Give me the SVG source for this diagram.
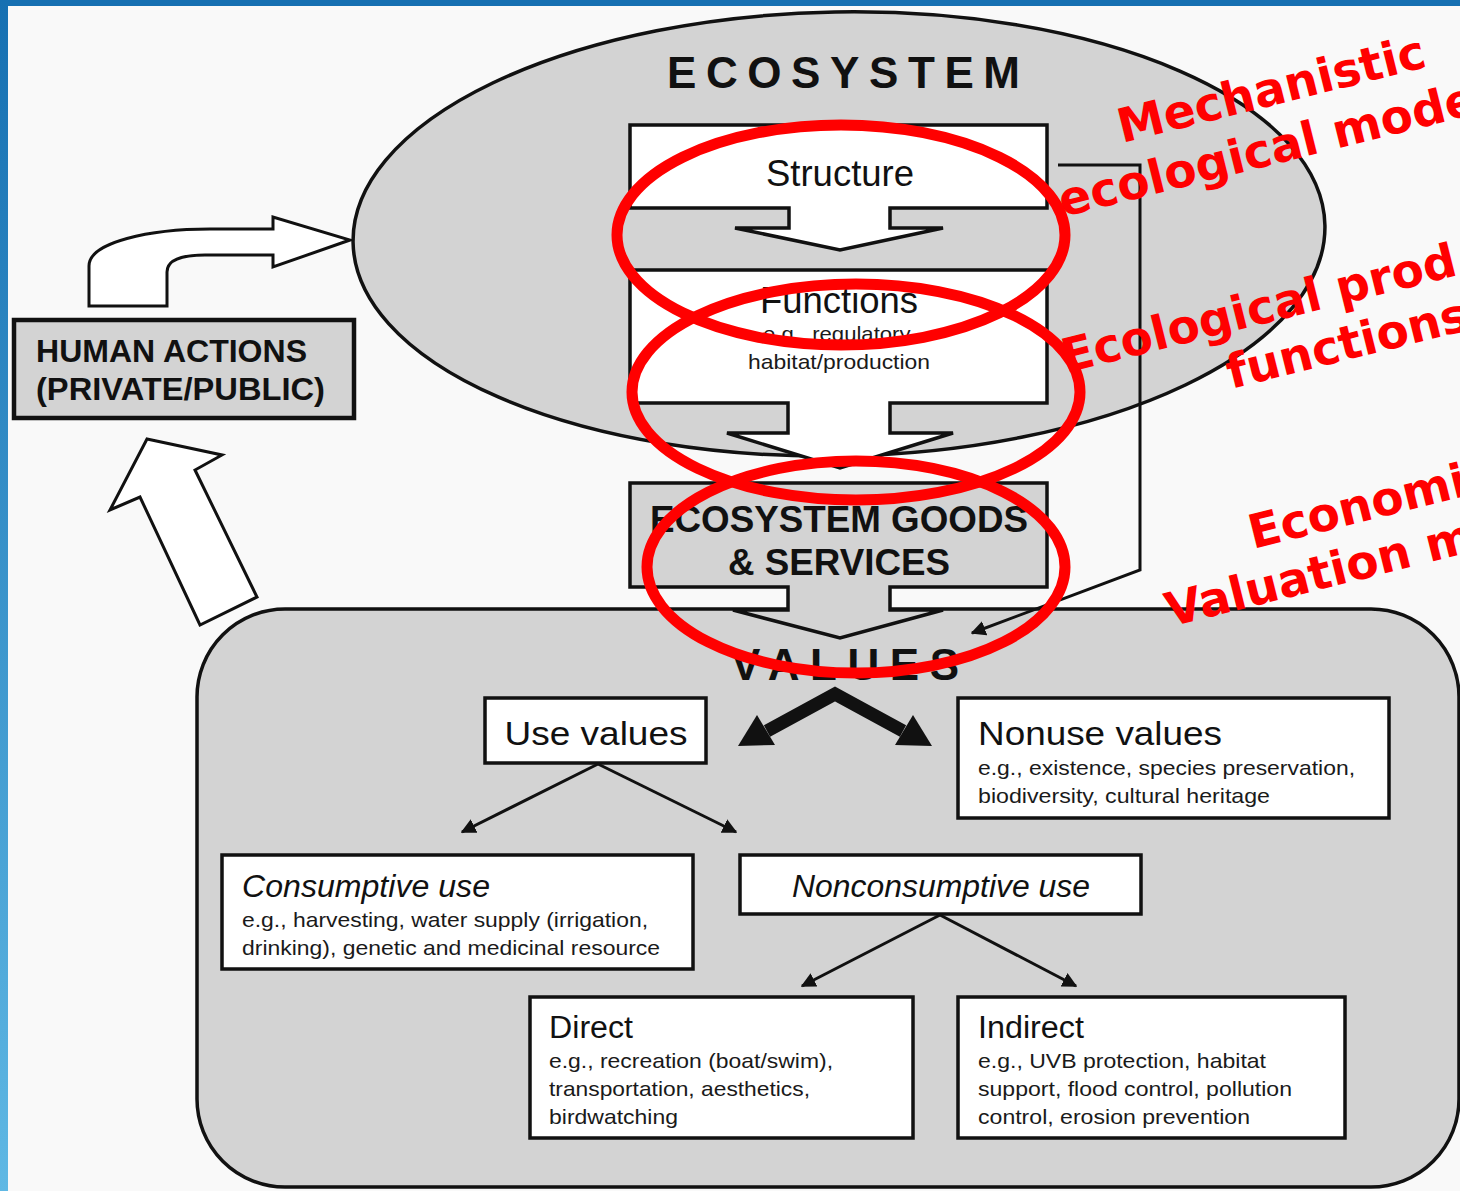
<svg xmlns="http://www.w3.org/2000/svg" width="1460" height="1191" viewBox="0 0 1460 1191">
  <defs>
    <linearGradient id="sideBar" x1="0" y1="0" x2="0" y2="1">
      <stop offset="0" stop-color="#1670b2"/>
      <stop offset="1" stop-color="#5fb8e4"/>
    </linearGradient>
    <marker id="tip" viewBox="0 0 10 10" refX="9" refY="5" markerWidth="5" markerHeight="5" orient="auto" markerUnits="strokeWidth">
      <path d="M0,0 L10,5 L0,10 Z" fill="#111"/>
    </marker>
    <style>
      .box { stroke: #111; stroke-width: 3.5; }
      .white { fill: #ffffff; }
      .grey { fill: #d3d3d3; }
      .line { fill: none; stroke: #111; stroke-width: 3; }
      .hollow { fill: #ffffff; stroke: #111; stroke-width: 3; stroke-linejoin: miter; }
      .sans { font-family: "Liberation Sans", Arial, sans-serif; fill: #111; }
      .bold { font-weight: bold; }
      .ital { font-style: italic; }
      .small { font-size: 21px; fill: #1a1a1a; }
      .mid { font-size: 31px; }
      .big { font-size: 34px; }
      .ring { fill: none; stroke: #ff0000; stroke-width: 11; }
      .note { font-family: "DejaVu Sans", Verdana, sans-serif; font-weight: bold; font-size: 47px; fill: #ff0000; }
    </style>
  </defs>

  <!-- page -->
  <rect x="0" y="0" width="1460" height="1191" fill="#f9f9f9"/>
  <rect x="0" y="0" width="1460" height="6" fill="#1670b2"/>
  <rect x="0" y="0" width="8" height="1191" fill="url(#sideBar)"/>

  <!-- ecosystem ellipse -->
  <g id="ecosystem">
    <ellipse cx="839" cy="234" rx="486" ry="222" transform="rotate(-1 839 234)" class="grey" stroke="#111" stroke-width="3.5"/>
    <text x="667" y="88" class="sans bold" font-size="44" textLength="353" lengthAdjust="spacing">ECOSYSTEM</text>
  </g>

  <!-- values panel -->
  <g id="values">
    <rect x="197" y="609" width="1262" height="578" rx="88" ry="88" class="grey box"/>
    <text x="731" y="680" class="sans bold" font-size="44" textLength="228" lengthAdjust="spacing">VALUES</text>
  </g>

  <!-- structure box with its down arrow -->
  <g id="structure">
    <path d="M630,125 H1047 V208 H890 V228 H943 L840,250 L735,228 H789 V208 H630 Z" class="white box"/>
    <text x="840" y="186" text-anchor="middle" class="sans" font-size="36" textLength="148" lengthAdjust="spacingAndGlyphs">Structure</text>
  </g>

  <!-- functions box with its down arrow -->
  <g id="functions">
    <path d="M630,270 H1047 V403 H890 V433 H953 L840,468 L727,433 H788 V403 H630 Z" class="white box"/>
    <text x="839" y="313" text-anchor="middle" class="sans" font-size="36" textLength="158" lengthAdjust="spacingAndGlyphs">Functions</text>
    <text x="839" y="341" text-anchor="middle" class="sans small" textLength="152" lengthAdjust="spacingAndGlyphs">e.g., regulatory,</text>
    <text x="839" y="369" text-anchor="middle" class="sans small" textLength="182" lengthAdjust="spacingAndGlyphs">habitat/production</text>
  </g>

  <!-- goods and services box with its down arrow -->
  <g id="goods">
    <path d="M630,483 H1047 V587 H890 V610 H943 L840,638 L733,610 H788 V587 H630 Z" class="grey box"/>
    <text x="839" y="532" text-anchor="middle" class="sans bold" font-size="37" textLength="378" lengthAdjust="spacingAndGlyphs">ECOSYSTEM GOODS</text>
    <text x="839" y="575" text-anchor="middle" class="sans bold" font-size="37" textLength="222" lengthAdjust="spacingAndGlyphs">&amp; SERVICES</text>
  </g>

  <!-- human actions -->
  <g id="human-actions">
    <rect x="14" y="320" width="340" height="98" class="grey" stroke="#111" stroke-width="4.5"/>
    <text x="36" y="362" class="sans bold" font-size="31" textLength="271" lengthAdjust="spacingAndGlyphs">HUMAN ACTIONS</text>
    <text x="36" y="400" class="sans bold" font-size="31" textLength="289" lengthAdjust="spacingAndGlyphs">(PRIVATE/PUBLIC)</text>
  </g>

  <g id="use-values">
    <rect x="485" y="698" width="221" height="65" class="white box"/>
    <text x="596" y="745" text-anchor="middle" class="sans big" textLength="183" lengthAdjust="spacingAndGlyphs">Use values</text>
  </g>

  <g id="nonuse-values">
    <rect x="958" y="698" width="431" height="120" class="white box"/>
    <text x="978" y="745" class="sans big" textLength="244" lengthAdjust="spacingAndGlyphs">Nonuse values</text>
    <text x="978" y="775" class="sans small" textLength="377" lengthAdjust="spacingAndGlyphs">e.g., existence, species preservation,</text>
    <text x="978" y="803" class="sans small" textLength="292" lengthAdjust="spacingAndGlyphs">biodiversity, cultural heritage</text>
  </g>

  <g id="consumptive-use">
    <rect x="222" y="855" width="471" height="114" class="white box"/>
    <text x="242" y="897" class="sans ital mid" textLength="248" lengthAdjust="spacingAndGlyphs">Consumptive use</text>
    <text x="242" y="927" class="sans small" textLength="406" lengthAdjust="spacingAndGlyphs">e.g., harvesting, water supply (irrigation,</text>
    <text x="242" y="955" class="sans small" textLength="418" lengthAdjust="spacingAndGlyphs">drinking), genetic and medicinal resource</text>
  </g>

  <g id="nonconsumptive-use">
    <rect x="740" y="855" width="401" height="59" class="white box"/>
    <text x="941" y="897" text-anchor="middle" class="sans ital mid" textLength="298" lengthAdjust="spacingAndGlyphs">Nonconsumptive use</text>
  </g>

  <g id="direct">
    <rect x="530" y="997" width="383" height="141" class="white box"/>
    <text x="549" y="1038" class="sans mid" textLength="84" lengthAdjust="spacingAndGlyphs">Direct</text>
    <text x="549" y="1068" class="sans small" textLength="284" lengthAdjust="spacingAndGlyphs">e.g., recreation (boat/swim),</text>
    <text x="549" y="1096" class="sans small" textLength="261" lengthAdjust="spacingAndGlyphs">transportation, aesthetics,</text>
    <text x="549" y="1124" class="sans small" textLength="129" lengthAdjust="spacingAndGlyphs">birdwatching</text>
  </g>

  <g id="indirect">
    <rect x="958" y="997" width="387" height="141" class="white box"/>
    <text x="978" y="1038" class="sans mid" textLength="106" lengthAdjust="spacingAndGlyphs">Indirect</text>
    <text x="978" y="1068" class="sans small" textLength="288" lengthAdjust="spacingAndGlyphs">e.g., UVB protection, habitat</text>
    <text x="978" y="1096" class="sans small" textLength="314" lengthAdjust="spacingAndGlyphs">support, flood control, pollution</text>
    <text x="978" y="1124" class="sans small" textLength="272" lengthAdjust="spacingAndGlyphs">control, erosion prevention</text>
  </g>

  <!-- connectors -->
  <g id="connectors">
    <!-- human actions act on the ecosystem -->
    <path class="hollow" d="M89,306 L89,266 C89,242 150,229 210,229 L273,229 L273,217 L350,240 L273,267 L273,255 L205,255 C180,255 167,260 167,272 L167,306 Z"/>
    <!-- values feed back to human actions -->
    <path class="hollow" d="M147,439 L222,455 L195,470 L257,597 L200,625 L140,497 L110,510 Z"/>
    <!-- structure straight to values -->
    <polyline class="line" points="1058,165 1140,165 1140,570 972,633" marker-end="url(#tip)"/>
    <!-- values split into use / nonuse -->
    <polyline points="767,731 835,694 903,731" fill="none" stroke="#111" stroke-width="13" stroke-linejoin="miter"/>
    <polygon points="738,746 775,745 757,715" fill="#111"/>
    <polygon points="932,746 895,745 913,715" fill="#111"/>
    <!-- use values split -->
    <line class="line" x1="598" y1="764" x2="462" y2="832" marker-end="url(#tip)"/>
    <line class="line" x1="598" y1="764" x2="736" y2="832" marker-end="url(#tip)"/>
    <!-- nonconsumptive split -->
    <line class="line" x1="940" y1="915" x2="802" y2="986" marker-end="url(#tip)"/>
    <line class="line" x1="940" y1="915" x2="1076" y2="986" marker-end="url(#tip)"/>
  </g>

  <!-- red highlight rings -->
  <g id="highlights">
    <ellipse cx="841" cy="235" rx="224" ry="110" class="ring"/>
    <ellipse cx="856" cy="392" rx="224" ry="108" class="ring"/>
    <ellipse cx="856" cy="567" rx="209" ry="106" class="ring"/>
  </g>

  <!-- red annotations, running off the right edge -->
  <g id="annotations">
    <text class="note" transform="translate(1122 143) rotate(-14)">Mechanistic</text>
    <text class="note" transform="translate(1063 217) rotate(-14)">ecological mode</text>
    <text class="note" transform="translate(1066 373) rotate(-14)">Ecological prod</text>
    <text class="note" transform="translate(1231 389) rotate(-14)">functions</text>
    <text class="note" transform="translate(1253 549) rotate(-14)">Economi</text>
    <text class="note" transform="translate(1170 627) rotate(-14)">Valuation m</text>
  </g>
</svg>
